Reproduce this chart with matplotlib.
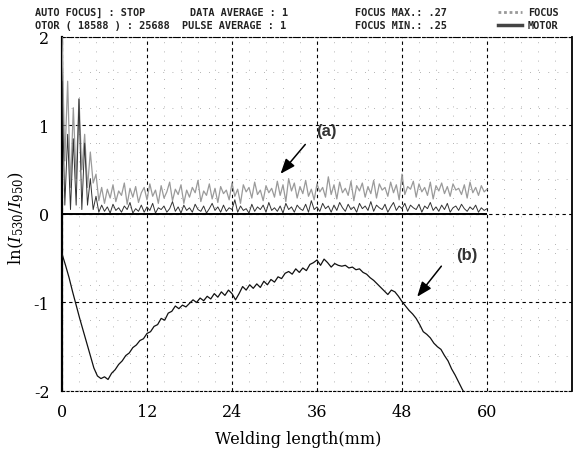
import numpy as np
import matplotlib
matplotlib.use("Agg")
import matplotlib.pyplot as plt
from matplotlib.ticker import MultipleLocator
from matplotlib.lines import Line2D

plt.rcParams["axes.unicode_minus"] = False
plt.rcParams["mathtext.fontset"] = "dejavuserif"

# sampling step of the two upper traces (mm)
step_top = 0.4
# (a) focus signal, light trace
focus_vals = [
    2.0, 0.6, 1.5, 0.3, 1.2, 0.4, 1.3, 0.5, 0.9, 0.3, 0.7, 0.35, 0.45, 0.15, 0.30,
    0.12, 0.28, 0.18, 0.33, 0.14, 0.26, 0.21, 0.35, 0.11, 0.29,
    0.19, 0.31, 0.13, 0.24, 0.30, 0.16, 0.34, 0.20, 0.27, 0.12,
    0.32, 0.18, 0.25, 0.36, 0.15, 0.28, 0.22, 0.33, 0.12, 0.27,
    0.19, 0.30, 0.24, 0.38, 0.14, 0.26, 0.21, 0.34, 0.17, 0.29,
    0.13, 0.31, 0.23, 0.27, 0.16, 0.35, 0.20, 0.28, 0.12, 0.33,
    0.25, 0.30, 0.18, 0.36, 0.22, 0.27, 0.15, 0.32, 0.24, 0.29,
    0.19, 0.37, 0.21, 0.33, 0.14, 0.40, 0.26, 0.35, 0.18, 0.31,
    0.23, 0.38, 0.20, 0.28, 0.16, 0.34, 0.25, 0.30, 0.19, 0.42,
    0.22, 0.33, 0.17, 0.36, 0.24, 0.29, 0.21, 0.37, 0.15, 0.32,
    0.26, 0.35, 0.19, 0.31, 0.23, 0.38, 0.18, 0.34, 0.27, 0.30,
    0.20, 0.36, 0.24, 0.33, 0.16, 0.45, 0.22, 0.31, 0.28, 0.37,
    0.19, 0.34, 0.25, 0.30, 0.21, 0.36, 0.17, 0.32, 0.26, 0.35,
    0.23, 0.31, 0.20, 0.34, 0.27, 0.29, 0.22, 0.33, 0.18, 0.36,
    0.24, 0.30, 0.21, 0.32, 0.25, 0.28,
]
# motor signal, dark trace near zero
motor_vals = [
    1.5, 0.1, 0.9, 0.05, 0.85, 0.1, 1.3, 0.05, 0.8, 0.1, 0.4, 0.05, 0.2, 0.02, 0.1,
    0.03, 0.08, 0.01, 0.11, 0.04, 0.07, 0.02, 0.09, 0.05, 0.13,
    0.01, 0.06, 0.03, 0.10, 0.02, 0.08, 0.04, 0.12, 0.01, 0.07,
    0.05, 0.09, 0.02, 0.06, 0.14, 0.03, 0.08, 0.01, 0.10, 0.04,
    0.07, 0.02, 0.11, 0.05, 0.03, 0.09, 0.01, 0.06, 0.12, 0.04,
    0.08, 0.02, 0.10, 0.03, 0.07, 0.05, 0.16, 0.02, 0.09, 0.04,
    0.06, 0.01, 0.11, 0.03, 0.08, 0.05, 0.10, 0.02, 0.13, 0.04,
    0.07, 0.03, 0.09, 0.01, 0.12, 0.05, 0.08, 0.02, 0.10, 0.06,
    0.04, 0.11, 0.02, 0.15, 0.05, 0.08, 0.03, 0.12, 0.06, 0.09,
    0.02, 0.10, 0.04, 0.13, 0.07, 0.03, 0.11, 0.05, 0.08, 0.02,
    0.12, 0.06, 0.09, 0.04, 0.14, 0.03, 0.10, 0.07, 0.05, 0.11,
    0.02, 0.08, 0.13, 0.04, 0.09, 0.06, 0.12, 0.03, 0.10, 0.07,
    0.05, 0.11, 0.02, 0.09, 0.06, 0.13, 0.04, 0.08, 0.03, 0.10,
    0.05, 0.12, 0.02, 0.07, 0.09, 0.04, 0.11, 0.06, 0.03, 0.08,
    0.05, 0.10, 0.02, 0.07, 0.04, 0.06,
]

# (b) lower curve, sampled every 0.5 mm
step_b = 0.5
curve_b = [
    -0.45, -0.58, -0.72, -0.88, -1.03, -1.18, -1.32, -1.46, -1.60, -1.74,
    -1.83, -1.86, -1.84, -1.87, -1.80, -1.76, -1.70, -1.66, -1.60, -1.57,
    -1.51, -1.48, -1.43, -1.41, -1.35, -1.33, -1.27, -1.25, -1.18, -1.20,
    -1.12, -1.10, -1.04, -1.07, -1.03, -1.05, -1.01, -0.97, -1.00, -0.95,
    -0.98, -0.93, -0.96, -0.90, -0.94, -0.88, -0.92, -0.86, -0.90, -0.97,
    -0.90, -0.82, -0.86, -0.80, -0.84, -0.79, -0.83, -0.76, -0.80, -0.74,
    -0.77, -0.71, -0.73, -0.67, -0.65, -0.68, -0.62, -0.66, -0.61, -0.64,
    -0.57, -0.55, -0.52, -0.58, -0.51, -0.55, -0.60, -0.56, -0.58, -0.59,
    -0.58, -0.61, -0.60, -0.63, -0.62, -0.66, -0.68, -0.72, -0.75, -0.79,
    -0.83, -0.87, -0.91, -0.86, -0.88, -0.93, -0.99, -1.04, -1.09, -1.13,
    -1.18, -1.25, -1.33, -1.36, -1.40, -1.46, -1.50, -1.53, -1.60, -1.66,
    -1.75, -1.82, -1.90, -1.98, -2.05,
]

x_ticks = [0, 12, 24, 36, 48, 60]
y_ticks = [-2, -1, 0, 1, 2]

x_top = np.arange(len(focus_vals)) * step_top
x_b = np.arange(len(curve_b)) * step_b

fig = plt.figure(figsize=(5.81, 4.56), dpi=100)
ax = fig.add_axes([0.1067, 0.1404, 0.8778, 0.7763])

ax.set_xlim(0, 72)
ax.set_ylim(-2, 2)

# grid: dashed majors, sparse dotted minors
ax.set_xticks(x_ticks)
ax.set_yticks(y_ticks)
ax.xaxis.set_minor_locator(MultipleLocator(2.4))
ax.yaxis.set_minor_locator(MultipleLocator(0.4))
ax.grid(which="major", color="black", linestyle=(0, (3, 3)), linewidth=0.8)
ax.grid(which="minor", color="#999999", linestyle=(0, (1, 10)), linewidth=0.6)
ax.tick_params(which="both", length=0)
ax.set_axisbelow(True)

for side in ["top", "bottom"]:
    ax.spines[side].set_linestyle((0, (2, 2)))
    ax.spines[side].set_linewidth(0.8)
ax.spines["left"].set_linewidth(1.6)
ax.spines["right"].set_linewidth(1.3)

ax.plot(x_top, focus_vals, color="#9a9a9a", linewidth=0.9, zorder=3)
ax.plot(x_top, motor_vals, color="#333333", linewidth=0.7, zorder=4)
ax.hlines(0, x_top[0], x_top[-1], color="black", linewidth=1.4, zorder=5)
ax.plot(x_b, curve_b, color="#111111", linewidth=0.9, zorder=5)

tick_font = {"family": "DejaVu Serif", "size": 11.5}
ax.set_xticklabels([str(v) for v in x_ticks], **tick_font)
ax.set_yticklabels([str(v) for v in y_ticks], **tick_font)
ax.tick_params(axis="x", pad=9)
ax.tick_params(axis="y", pad=9)

ax.set_xlabel("Welding length(mm)", family="DejaVu Serif", fontsize=11.5)
ax.xaxis.set_label_coords(0.463, -0.11)
ax.set_ylabel(r"$\mathrm{ln}(I_{530}/I_{950})$", fontsize=12)
ax.yaxis.set_label_coords(-0.07, 0.49)

arrow = dict(arrowstyle="-|>,head_length=0.9,head_width=0.35",
             color="black", facecolor="#777777", linewidth=1.1)
ax.annotate("", xy=(30.6, 0.43), xytext=(34.6, 0.81), arrowprops=arrow, zorder=6)
ax.text(37.3, 0.94, "(a)", family="Liberation Sans", weight="bold",
        fontsize=12, color="#333333", ha="center", va="center")
ax.annotate("", xy=(49.9, -0.96), xytext=(53.8, -0.565), arrowprops=arrow, zorder=6)
ax.text(57.2, -0.46, "(b)", family="Liberation Sans", weight="bold",
        fontsize=12, color="#333333", ha="center", va="center")

# instrument header printed above the plot
hdr = {"family": "DejaVu Sans Mono", "weight": "bold", "fontsize": 7.4,
       "va": "center", "ha": "left", "color": "#222222"}
y1, y2 = 1 - 13 / 456, 1 - 26 / 456
fig.text(35 / 581, y1, "AUTO FOCUS] : STOP", **hdr)
fig.text(35 / 581, y2, "OTOR ( 18588 ) : 25688", **hdr)
fig.text(190 / 581, y1, "DATA AVERAGE : 1", **hdr)
fig.text(182 / 581, y2, "PULSE AVERAGE : 1", **hdr)
fig.text(355 / 581, y1, "FOCUS MAX.: .27", **hdr)
fig.text(355 / 581, y2, "FOCUS MIN.: .25", **hdr)
fig.text(528 / 581, y1, "FOCUS", **hdr)
fig.text(528 / 581, y2, "MOTOR", **hdr)
fig.add_artist(Line2D([498 / 581, 522 / 581], [y1, y1], color="#999999",
                      linewidth=2.0, linestyle=(0, (1, 1))))
fig.add_artist(Line2D([498 / 581, 522 / 581], [y2, y2], color="#444444",
                      linewidth=2.5))

fig.savefig("out.png", dpi=100)
